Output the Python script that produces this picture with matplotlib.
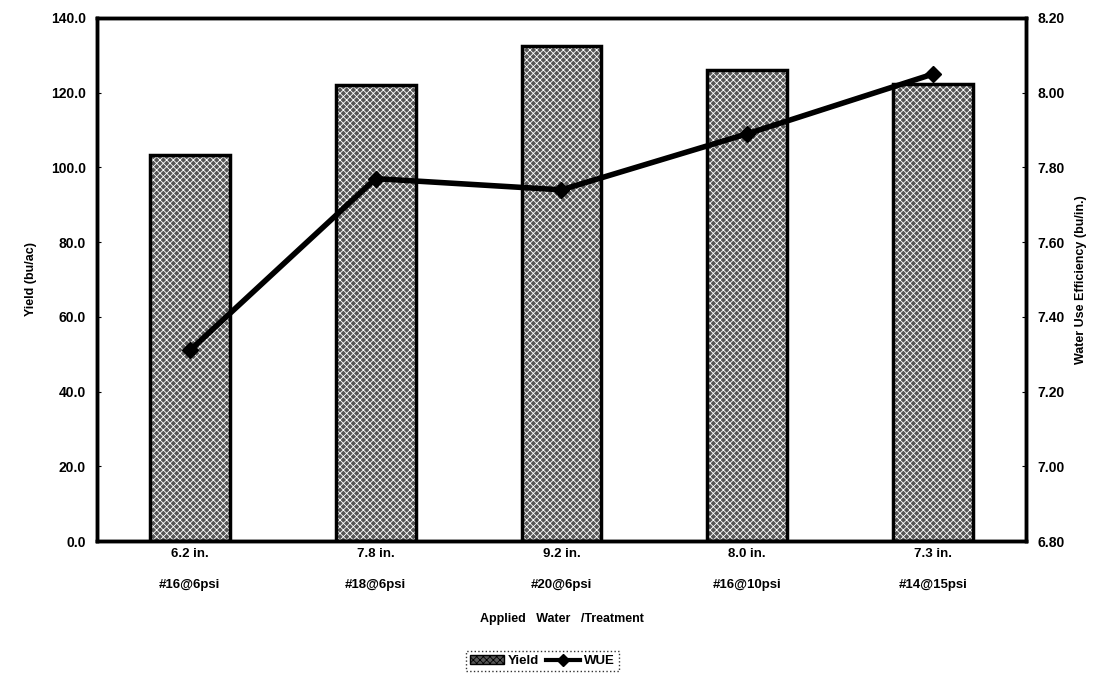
import numpy as np
import matplotlib
matplotlib.use("Agg")
import matplotlib.pyplot as plt
from matplotlib.lines import Line2D
from matplotlib.patches import Patch

plt.rcParams['font.family'] = ['Liberation Sans', 'DejaVu Sans']
plt.rcParams['font.weight'] = 'bold'
plt.rcParams['hatch.color'] = 'white'
plt.rcParams['hatch.linewidth'] = 0.6

# data
water = ["6.2 in.", "7.8 in.", "9.2 in.", "8.0 in.", "7.3 in."]
treatment = ["#16@6psi", "#18@6psi", "#20@6psi", "#16@10psi", "#14@15psi"]
yield_bu = [103.3, 122.1, 132.6, 126.0, 122.3]
wue = [7.31, 7.77, 7.74, 7.89, 8.05]

labels = [w + "\n" + t for w, t in zip(water, treatment)]
x = np.arange(len(labels))

fig = plt.figure(figsize=(10.93, 6.76), dpi=100)
ax = fig.add_axes([0.0887, 0.1997, 0.85, 0.7737])

# textured bars: hatch layer then black outline
ax.bar(x, yield_bu, width=0.43, color='#555555', hatch='xxxxx', linewidth=0)
ax.bar(x, yield_bu, width=0.43, facecolor='none', edgecolor='black', linewidth=2.5)

ax.set_xlim(-0.5, len(labels) - 0.5)
ax.set_ylim(0, 140)
ax.set_yticks(np.arange(0, 141, 20))
ax.set_yticklabels([f"{v:.1f}" for v in np.arange(0, 141, 20)])
ax.set_xticks(x)
ax.set_xticklabels(labels, linespacing=3.1)
ax.tick_params(axis='x', length=0, pad=5, labelsize=9.5)
ax.tick_params(axis='y', direction='in', length=3, labelsize=10, pad=8)
for s in ax.spines.values():
    s.set_linewidth(2.5)
ax.set_ylabel("Yield (bu/ac)", fontsize=9, fontweight='bold', labelpad=10)
ax.set_xlabel("Applied   Water   /Treatment", fontsize=9, fontweight='bold', labelpad=16)

ax2 = ax.twinx()
ax2.plot(x, wue, color='black', linewidth=4, marker='D', markersize=8)
ax2.set_ylim(6.8, 8.2)
ax2.set_yticks(np.arange(6.8, 8.21, 0.2))
ax2.set_yticklabels([f"{v:.2f}" for v in np.arange(6.8, 8.21, 0.2)])
ax2.tick_params(axis='y', direction='in', length=3, labelsize=10, pad=8)
for s in ax2.spines.values():
    s.set_linewidth(2.5)
ax2.set_ylabel("Water Use Efficiency (bu/in.)", fontsize=9, fontweight='bold', labelpad=8)

handles = [Patch(facecolor='#555555', hatch='xxxxx', edgecolor='black'),
           Line2D([], [], color='black', linewidth=3, marker='D', markersize=6)]
leg = fig.legend(handles, ["Yield", "WUE"], loc='center', bbox_to_anchor=(0.496, 0.022),
                 ncol=2, fontsize=9.5, frameon=True, fancybox=False, handlelength=2.6,
                 handletextpad=0.3, columnspacing=0.5, borderpad=0.3)
leg.get_frame().set_edgecolor('black')
leg.get_frame().set_linestyle(':')
leg.get_frame().set_linewidth(1)

fig.savefig("out.png", dpi=100)
